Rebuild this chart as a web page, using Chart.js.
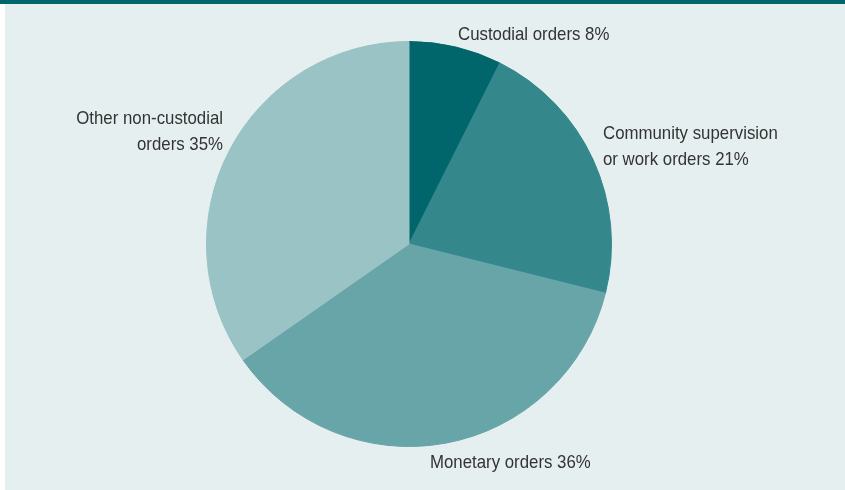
<!DOCTYPE html>
<html>
<head>
<meta charset="utf-8">
<script src="https://cdn.jsdelivr.net/npm/chart.js@4"></script>
<style>
  html, body { margin: 0; padding: 0; background: #ffffff; }
  #wrap { position: relative; width: 845px; height: 490px; }
  canvas { display: block; }
</style>
</head>
<body>
<div id="wrap"><canvas id="c" width="845" height="490"></canvas></div>
<script>
// ---- data ----
const categories = ["Custodial orders", "Community supervision or work orders", "Monetary orders", "Other non-custodial orders"];
// slice sizes (labels show rounded figures)
const values = [7.4, 21.5, 36.4, 34.7];
const labelPercents = ["8%", "21%", "36%", "35%"];
const labelLines = [
  ["Custodial orders " + labelPercents[0]],
  ["Community supervision", "or work orders " + labelPercents[1]],
  ["Monetary orders " + labelPercents[2]],
  ["Other non-custodial", "orders " + labelPercents[3]]
];

// ---- styling / layout ----
const colors = ["#00666c", "#34878b", "#67a5a9", "#9ac3c6"];
const BG = "#e6eff0";
const labelLayout = [
  { x: 458, y: 35, align: "left" },
  { x: 603, y: 134, align: "left" },
  { x: 430, y: 463, align: "left" },
  { x: 223, y: 119, align: "right" }
];
const FONT = '19px "Liberation Sans Narrow", "Liberation Sans", Arial, sans-serif';
const XSCALE = 0.885;

const backgroundPlugin = {
  id: "bg",
  beforeDraw(chart) {
    const ctx = chart.ctx;
    ctx.save();
    ctx.fillStyle = "#ffffff";
    ctx.fillRect(0, 0, chart.width, chart.height);
    ctx.fillStyle = BG;
    ctx.fillRect(5, 0, chart.width - 5, chart.height);
    ctx.fillStyle = "#00666c";
    ctx.fillRect(0, 0, chart.width, 4);
    ctx.restore();
  }
};

const labelPlugin = {
  id: "labels",
  afterDraw(chart) {
    const ctx = chart.ctx;
    ctx.font = FONT;
    ctx.fillStyle = "#333333";
    ctx.textBaseline = "middle";
    labelLines.forEach((lines, i) => {
      const L = labelLayout[i];
      lines.forEach((t, j) => {
        ctx.save();
        ctx.translate(L.x, L.y + j * 26);
        ctx.scale(XSCALE, 1);
        ctx.textAlign = L.align;
        ctx.fillText(t, 0, 0);
        ctx.restore();
      });
    });
  }
};

new Chart(document.getElementById("c"), {
  type: "pie",
  data: {
    labels: categories,
    datasets: [{
      data: values,
      backgroundColor: colors,
      borderColor: colors,
      borderWidth: 1
    }]
  },
  options: {
    responsive: false,
    animation: false,
    layout: { padding: { top: 41, bottom: 43, left: 206, right: 233 } },
    plugins: { legend: { display: false }, tooltip: { enabled: false } }
  },
  plugins: [backgroundPlugin, labelPlugin]
});
</script>
</body>
</html>
